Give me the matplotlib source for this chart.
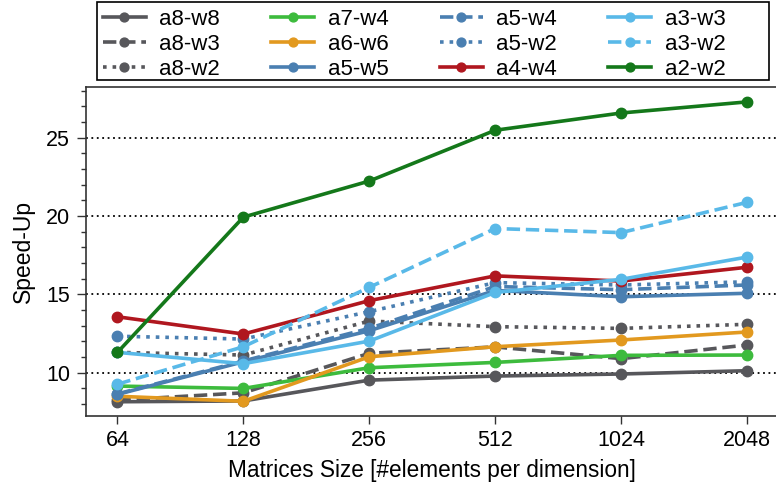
import matplotlib
matplotlib.use("Agg")
import matplotlib.pyplot as plt
from matplotlib.ticker import MultipleLocator
from matplotlib.patches import Rectangle

plt.rcParams['font.family'] = ['Liberation Sans', 'DejaVu Sans']

sizes = ["64", "128", "256", "512", "1024", "2048"]

labels = ["a8-w8", "a8-w3", "a8-w2",
          "a7-w4", "a6-w6", "a5-w5",
          "a5-w4", "a5-w2", "a4-w4",
          "a3-w3", "a3-w2", "a2-w2"]

a8_w8 = [8.15, 8.20, 9.53, 9.79, 9.92, 10.13]
a8_w3 = [8.25, 8.72, 11.24, 11.65, 10.90, 11.77]
a8_w2 = [11.30, 11.13, 13.30, 12.94, 12.83, 13.09]
a7_w4 = [9.15, 9.00, 10.32, 10.66, 11.11, 11.13]
a6_w6 = [8.50, 8.18, 11.02, 11.66, 12.09, 12.60]
a5_w5 = [8.62, 10.70, 12.68, 15.25, 14.85, 15.07]
a5_w4 = [8.65, 10.75, 12.83, 15.50, 15.30, 15.60]
a5_w2 = [12.33, 12.15, 13.90, 15.75, 15.60, 15.80]
a4_w4 = [13.57, 12.47, 14.60, 16.18, 15.85, 16.73]
a3_w3 = [11.30, 10.58, 12.02, 15.12, 15.96, 17.38]
a3_w2 = [9.27, 11.66, 15.45, 19.20, 18.94, 20.87]
a2_w2 = [11.30, 19.93, 22.23, 25.47, 26.57, 27.28]

series = [a8_w8, a8_w3, a8_w2, a7_w4, a6_w6, a5_w5,
          a5_w4, a5_w2, a4_w4, a3_w3, a3_w2, a2_w2]

grey = '#57575b'
blue = '#4a7fb1'
lblue = '#59b9e8'
colors = [grey, grey, grey, '#3dbb3d', '#e2991f', blue,
          blue, blue, '#b0171f', lblue, lblue, '#14781a']
styles = ['-', '--', ':', '-', '-', '-',
          '--', ':', '-', '-', '--', '-']

fig = plt.figure(figsize=(7.76, 4.92), dpi=100)
ax = fig.add_axes([86 / 776, 76.3 / 492, (778.5 - 86) / 776, (415.7 - 87.3) / 492])

x = list(range(len(sizes)))
handles = []
for vals, lab, c, ls in zip(series, labels, colors, styles):
    h, = ax.plot(x, vals, linestyle=ls, color=c, lw=2.6, marker='o', ms=7.5,
                 label=lab)
    handles.append(h)

ax.set_xlim(-0.25, 5.25)
ax.set_ylim(7.26, 28.21)
ax.set_xticks(x)
ax.set_xticklabels(sizes)
ax.yaxis.set_major_locator(MultipleLocator(5))
ax.yaxis.set_minor_locator(MultipleLocator(1))
ax.tick_params(axis='both', which='major', labelsize=15.5, width=1,
               color='#333333', direction='out')
ax.tick_params(axis='x', which='major', length=5.5, pad=4.5)
ax.tick_params(axis='y', which='major', length=6.5, pad=5)
ax.tick_params(axis='y', which='minor', length=3.5, width=1, color='#333333')
for s in ['left', 'bottom', 'top']:
    ax.spines[s].set_color('#333333')
    ax.spines[s].set_linewidth(1.2)
ax.spines['right'].set_visible(False)

for yv in [10, 15, 20, 25]:
    ax.axhline(yv, color='black', linestyle=(0, (1, 2)), lw=1.3, zorder=0.5)

ax.set_ylabel('Speed-Up', fontsize=16.5, labelpad=8)
ax.set_xlabel('Matrices Size [#elements per dimension]', fontsize=16.3, labelpad=6)

leg = fig.legend(handles=handles, labels=labels, ncol=4,
                 loc='upper left', bbox_to_anchor=(97 / 776, 1 - 3 / 492),
                 borderaxespad=0,
                 fontsize=16, frameon=False,
                 handlelength=1.95, handletextpad=0.6, columnspacing=2.3,
                 labelspacing=0.18, borderpad=0.25, markerscale=0.85)

frame = Rectangle((97 / 776, 1 - 80 / 492), (769 - 97) / 776, 78 / 492,
                  transform=fig.transFigure, fill=False, edgecolor='black',
                  linewidth=1.2, zorder=5)
fig.patches.append(frame)

fig.savefig('out.png', dpi=100)
